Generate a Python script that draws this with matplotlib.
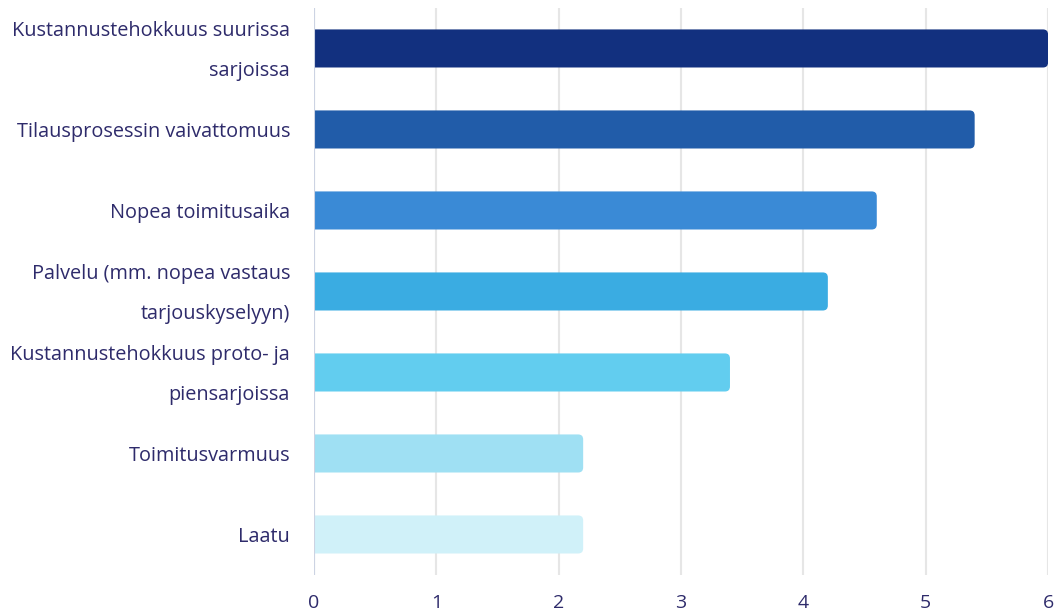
import matplotlib.pyplot as plt
from matplotlib.patches import FancyBboxPatch
from matplotlib.transforms import ScaledTranslation

plt.rcParams['font.family'] = ['Open Sans', 'DejaVu Sans']

labels = [
    "Kustannustehokkuus suurissa\nsarjoissa",
    "Tilausprosessin vaivattomuus",
    "Nopea toimitusaika",
    "Palvelu (mm. nopea vastaus\ntarjouskyselyyn)",
    "Kustannustehokkuus proto- ja\npiensarjoissa",
    "Toimitusvarmuus",
    "Laatu",
]
values = [6.0, 5.4, 4.6, 4.2, 3.4, 2.2, 2.2]
colors = ["#12307f", "#215ca9", "#3a8ad6", "#3aace2", "#62cdef", "#9fe0f3", "#d0f1f9"]

text_color = "#2e2b6b"
bar_h = 0.47

fig = plt.figure(figsize=(10.58, 6.12), dpi=100)
ax = fig.add_axes([0.2968, 0.0605, 0.6938, 0.9265])

ys = list(range(len(labels)))
# rounded bars: x rounding 5px / 122px per unit, y rounding 5px / 81px per unit
rx = 0.041
aspect = 0.062 / rx
for y, v, c in zip(ys, values, colors):
    # start a little left of zero so the left corners get clipped by the axes
    box = FancyBboxPatch((-0.1, y - bar_h / 2), v + 0.1, bar_h,
                         boxstyle=f"round,pad=0,rounding_size={rx}",
                         mutation_aspect=aspect, fc=c, ec="none", zorder=3)
    ax.add_patch(box)

ax.set_xlim(0, 6)
ax.set_ylim(len(labels) - 0.5, -0.5)
ax.set_yticks(ys)
ax.set_yticklabels([])

# category labels, right-aligned left of the axis
label_tr = ax.get_yaxis_transform() + ScaledTranslation(-24 / 100, -3 / 100, fig.dpi_scale_trans)
for y, lab in zip(ys, labels):
    ax.text(0, y, lab, transform=label_tr, ha='right', va='center',
            fontsize=14.3, color=text_color, linespacing=2.33)

ax.set_xticks(range(0, 7))
ax.tick_params(axis='y', length=0)
ax.tick_params(axis='x', length=0, pad=14, labelsize=14, labelcolor=text_color)

ax.grid(axis='x', color="#e6e6e6", linewidth=1.5, zorder=0)
ax.axvline(0, color="#ccd3e3", linewidth=1.5, zorder=4)
for s in ax.spines.values():
    s.set_visible(False)

fig.savefig("out.png", dpi=100)
